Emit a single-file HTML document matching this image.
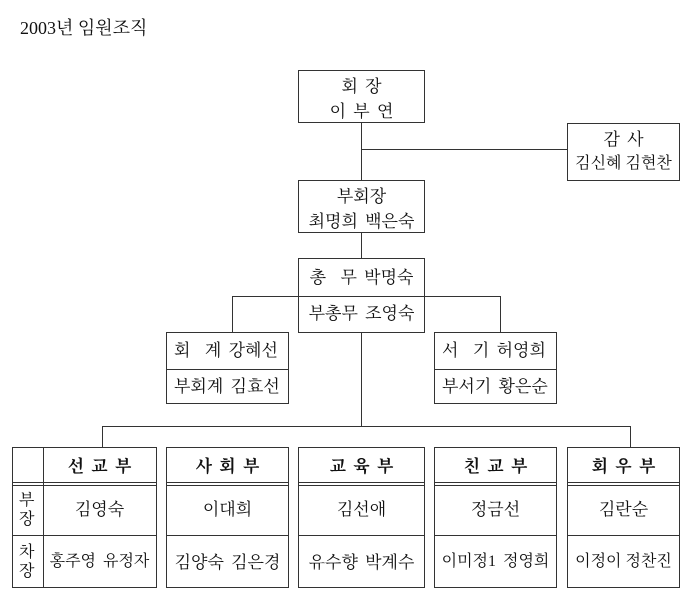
<!DOCTYPE html>
<html><head><meta charset="utf-8"><style>
body{margin:0;width:700px;height:608px;background:#fff;position:relative;font-family:"Liberation Serif","Noto Serif CJK SC","Noto Sans CJK KR",serif;color:#111;overflow:hidden}
.a{position:absolute;box-sizing:border-box}
.b{border:1px solid #333}
.h{position:absolute;height:1px;background:#333}
.v{position:absolute;width:1px;background:#333}
.t{position:absolute;left:0;right:0;text-align:center;font-size:17px;line-height:1;word-spacing:3px}
.r{position:absolute;left:0;right:0;height:0;border-top:1px solid #333}
.d{position:absolute;left:0;right:0;height:2px;border-top:1px solid #333;border-bottom:1px solid #333}
</style></head><body>
<div class="a" style="left:20px;top:14px;font-size:18px;">2003년 임원조직</div>

<div class="a b" style="left:298px;top:70px;width:127px;height:53px"><div class="t" style="top:7px">회 장</div><div class="t" style="top:32px">이 부 연</div></div>
<div class="v" style="left:361px;top:123px;height:57px"></div>
<div class="h" style="left:361px;top:149px;width:206px"></div>
<div class="a b" style="left:567px;top:123px;width:113px;height:58px"><div class="t" style="top:7px">감 사</div><div class="t" style="top:32px;font-size:16px;word-spacing:0">김신혜 김현찬</div></div>

<div class="a b" style="left:298px;top:180px;width:127px;height:53px"><div class="t" style="top:7px">부회장</div><div class="t" style="top:32px">최명희 백은숙</div></div>
<div class="v" style="left:361px;top:233px;height:25px"></div>

<div class="a b" style="left:298px;top:258px;width:127px;height:75px"><div class="t" style="top:10px">총 &nbsp;무 박명숙</div><div class="r" style="top:37px"></div><div class="t" style="top:46px">부총무 조영숙</div></div>
<div class="h" style="left:232px;top:296px;width:66px"></div>
<div class="h" style="left:425px;top:296px;width:76px"></div>
<div class="v" style="left:232px;top:296px;height:36px"></div>
<div class="v" style="left:500px;top:296px;height:36px"></div>

<div class="a b" style="left:166px;top:332px;width:123px;height:72px"><div class="t" style="top:9px;text-align:left;padding-left:7px">회 &nbsp;계 강혜선</div><div class="r" style="top:36px"></div><div class="t" style="top:45px;text-align:left;padding-left:7px">부회계 김효선</div></div>
<div class="a b" style="left:434px;top:332px;width:123px;height:72px"><div class="t" style="top:9px;text-align:left;padding-left:7px">서 &nbsp;기 허영희</div><div class="r" style="top:36px"></div><div class="t" style="top:45px;text-align:left;padding-left:7px">부서기 황은순</div></div>

<div class="v" style="left:361px;top:333px;height:93px"></div>
<div class="h" style="left:102px;top:426px;width:529px"></div>
<div class="v" style="left:102px;top:426px;height:21px"></div>
<div class="v" style="left:630px;top:426px;height:21px"></div>

<div class="a b" style="left:12px;top:447px;width:145px;height:141px">
<div class="v" style="left:30px;top:0;height:139px"></div>
<div class="t" style="top:10px;left:30px;font-weight:bold">선 교 부</div>
<div class="d" style="top:34px"></div>
<div class="t" style="top:53px;left:30px">김영숙</div>
<div class="r" style="top:87px"></div>
<div class="t" style="top:106px;left:30px;font-size:16px">홍주영 유정자</div>
<div class="a" style="left:6px;top:43px;font-size:16px;line-height:19px;width:18px">부<br>장</div>
<div class="a" style="left:6px;top:95px;font-size:16px;line-height:19px;width:18px">차<br>장</div>
</div>
<div class="a b" style="left:166px;top:447px;width:123px;height:141px"><div class="t" style="top:10px;font-weight:bold">사 회 부</div><div class="d" style="top:34px"></div><div class="t" style="top:53px">이대희</div><div class="r" style="top:87px"></div><div class="t" style="top:106px">김양숙 김은경</div></div>
<div class="a b" style="left:298px;top:447px;width:127px;height:141px"><div class="t" style="top:10px;font-weight:bold">교 육 부</div><div class="d" style="top:34px"></div><div class="t" style="top:53px">김선애</div><div class="r" style="top:87px"></div><div class="t" style="top:106px">유수향 박계수</div></div>
<div class="a b" style="left:434px;top:447px;width:123px;height:141px"><div class="t" style="top:10px;font-weight:bold">친 교 부</div><div class="d" style="top:34px"></div><div class="t" style="top:53px">정금선</div><div class="r" style="top:87px"></div><div class="t" style="top:106px;font-size:16px">이미정1 정영희</div></div>
<div class="a b" style="left:567px;top:447px;width:113px;height:141px"><div class="t" style="top:10px;font-weight:bold">회 우 부</div><div class="d" style="top:34px"></div><div class="t" style="top:53px">김란순</div><div class="r" style="top:87px"></div><div class="t" style="top:106px;font-size:16px;word-spacing:0">이정이 정찬진</div></div>
</body></html>
